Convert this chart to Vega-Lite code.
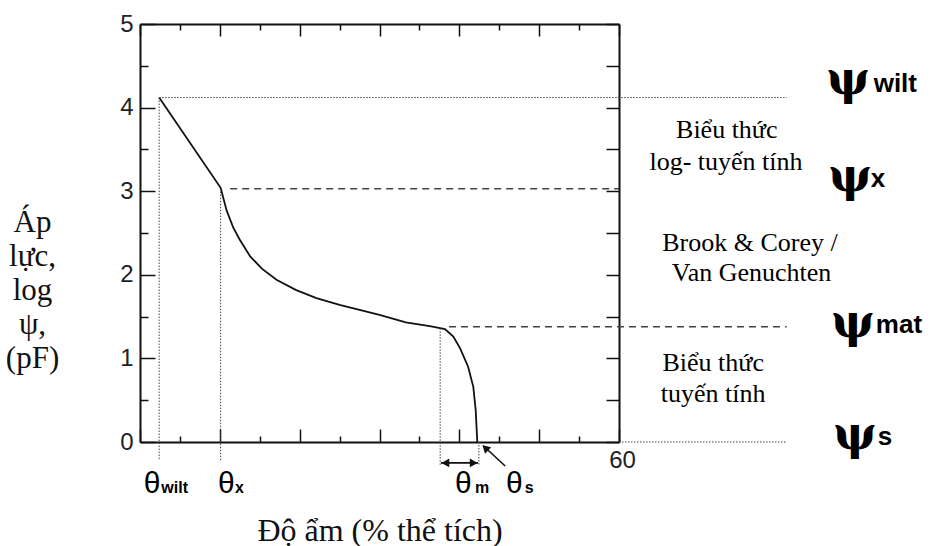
{
  "$schema": "https://vega.github.io/schema/vega-lite/v6.json",
  "width": 479,
  "height": 418,
  "autosize": {"type": "none"},
  "padding": {"left": 140, "top": 24, "right": 313, "bottom": 104},
  "background": "white",
  "config": {
    "view": {"stroke": null},
    "axis": {
      "domainColor": "#111",
      "domainWidth": 2,
      "tickColor": "#111",
      "tickWidth": 1.5,
      "grid": false,
      "labelFont": "Liberation Sans",
      "labelFontSize": 24,
      "labelColor": "#222",
      "labelFlush": false,
      "labelOverlap": false,
      "titleFont": "Liberation Serif",
      "titleFontSize": 31,
      "titleFontWeight": "normal",
      "titleColor": "#111"
    }
  },
  "datasets": {
    "curve": [
      {"x": 2.4, "y": 4.12}, {"x": 10.1, "y": 3.04}, {"x": 10.85, "y": 2.77}, {"x": 11.7, "y": 2.56},
      {"x": 12.5, "y": 2.42}, {"x": 13.8, "y": 2.22}, {"x": 15.3, "y": 2.07}, {"x": 17.1, "y": 1.94},
      {"x": 19.5, "y": 1.82}, {"x": 22.1, "y": 1.72}, {"x": 25.0, "y": 1.64}, {"x": 27.5, "y": 1.58},
      {"x": 30.0, "y": 1.52}, {"x": 33.3, "y": 1.43}, {"x": 36.3, "y": 1.385}, {"x": 38.2, "y": 1.35},
      {"x": 39.25, "y": 1.26}, {"x": 40.1, "y": 1.12}, {"x": 41.1, "y": 0.9}, {"x": 41.75, "y": 0.66},
      {"x": 42.05, "y": 0.38}, {"x": 42.25, "y": 0}
    ],
    "guides": [
      {"series": "wilt_v", "style": "dotted", "x": 2.4, "y": 4.12},
      {"series": "wilt_v", "style": "dotted", "x": 2.4, "y": -0.22},
      {"series": "wilt_h", "style": "dotted", "x": 2.4, "y": 4.12},
      {"series": "wilt_h", "style": "dotted", "x": 81, "y": 4.12},
      {"series": "x_v", "style": "dotted", "x": 10.1, "y": 3.03},
      {"series": "x_v", "style": "dotted", "x": 10.1, "y": -0.22},
      {"series": "m_v", "style": "dotted", "x": 37.6, "y": 1.36},
      {"series": "m_v", "style": "dotted", "x": 37.6, "y": -0.28},
      {"series": "s_v", "style": "dotted", "x": 42.45, "y": 0},
      {"series": "s_v", "style": "dotted", "x": 42.45, "y": -0.28},
      {"series": "s_h", "style": "dotted", "x": 60, "y": 0},
      {"series": "s_h", "style": "dotted", "x": 81, "y": 0},
      {"series": "x_h", "style": "dashed", "x": 11.3, "y": 3.03},
      {"series": "x_h", "style": "dashed", "x": 60, "y": 3.03},
      {"series": "mat_h", "style": "dashed", "x": 38.7, "y": 1.38},
      {"series": "mat_h", "style": "dashed", "x": 81, "y": 1.38}
    ],
    "arrows": [
      {"series": "m", "x": 37.7, "y": -0.25},
      {"series": "m", "x": 42.35, "y": -0.25},
      {"series": "s", "x": 45.74, "y": -0.287},
      {"series": "s", "x": 43.0, "y": -0.045}
    ],
    "heads": [
      {"id": "left", "x": 38.25, "y": -0.25},
      {"id": "right", "x": 41.8, "y": -0.25},
      {"id": "diag", "x": 43.25, "y": -0.07}
    ],
    "labels": [
      {"kind": "psi", "text": "ψ", "x": 88.69, "y": 4.33},
      {"kind": "psi", "text": "ψ", "x": 88.94, "y": 3.17},
      {"kind": "psi", "text": "ψ", "x": 89.3, "y": 1.42},
      {"kind": "psi", "text": "ψ", "x": 89.56, "y": 0.085},
      {"kind": "psisub", "text": "wilt", "x": 91.9, "y": 4.19},
      {"kind": "psisub", "text": "x", "x": 91.55, "y": 3.05},
      {"kind": "psisub", "text": "mat", "x": 92.17, "y": 1.3},
      {"kind": "psisub", "text": "s", "x": 92.4, "y": -0.04},
      {"kind": "theta", "text": "θ", "x": 1.5, "y": -0.615},
      {"kind": "theta", "text": "θ", "x": 10.81, "y": -0.615},
      {"kind": "theta", "text": "θ", "x": 40.5, "y": -0.615},
      {"kind": "theta", "text": "θ", "x": 46.9, "y": -0.615},
      {"kind": "thetasub", "text": "wilt", "x": 2.67, "y": -0.615},
      {"kind": "thetasub", "text": "x", "x": 11.9, "y": -0.615},
      {"kind": "thetasub", "text": "m", "x": 41.96, "y": -0.615},
      {"kind": "thetasub", "text": "s", "x": 48.2, "y": -0.615},
      {"kind": "note", "text": "Biểu thức", "x": 73.5, "y": 3.73},
      {"kind": "note", "text": "log- tuyến tính", "x": 73.4, "y": 3.35},
      {"kind": "note", "text": "Brook & Corey /", "x": 76.4, "y": 2.38},
      {"kind": "note", "text": "Van Genuchten", "x": 76.6, "y": 2.02},
      {"kind": "note", "text": "Biểu thức", "x": 71.8, "y": 0.94},
      {"kind": "note", "text": "tuyến tính", "x": 71.8, "y": 0.58}
    ]
  },
  "layer": [
    {
      "data": {"name": "curve"},
      "mark": {"type": "line", "color": "#111", "strokeWidth": 1.8, "clip": false},
      "encoding": {
        "x": {"field": "x", "type": "quantitative", "scale": {"domain": [0, 60], "nice": false, "zero": false},
          "axis": {"orient": "bottom", "values": [0, 10, 20, 30, 40, 50, 60], "tickSize": -13, "labelExpr": "datum.value == 60 ? '60' : ''", "labelPadding": 19, "labelOffset": 3, "labelAlign": "center",
            "title": "Độ ẩm (% thể tích)", "titleX": 239.5, "titleY": 98, "titleAlign": "center", "titleBaseline": "alphabetic", "titleFontSize": 32}},
        "y": {"field": "y", "type": "quantitative", "scale": {"domain": [0, 5], "nice": false, "zero": false},
          "axis": {"orient": "left", "values": [0, 1, 2, 3, 4, 5], "format": "d", "tickSize": -15, "labelPadding": 22,
            "title": ["Áp", "lực,", "log", "ψ,", "(pF)"], "titleAngle": 0, "titleAlign": "center", "titleBaseline": "alphabetic", "titleX": -108, "titleY": 207, "titleLineHeight": 34}}
      }
    },
    {
      "data": {"name": "guides"},
      "transform": [{"filter": "datum.style == 'dotted'"}],
      "mark": {"type": "line", "color": "#444", "strokeWidth": 1, "strokeDash": [1.5, 1.5], "clip": false},
      "encoding": {
        "x": {"field": "x", "type": "quantitative", "scale": {"domain": [0, 60], "nice": false, "zero": false},
          "axis": {"orient": "bottom", "values": [5, 15, 25, 35, 45, 55], "tickSize": -6, "labels": false, "domain": false, "title": null}},
        "y": {"field": "y", "type": "quantitative", "scale": {"domain": [0, 5], "nice": false, "zero": false},
          "axis": {"orient": "left", "values": [0.5, 1.5, 2.5, 3.5, 4.5], "tickSize": -8, "labels": false, "domain": false, "title": null}},
        "detail": {"field": "series"}
      }
    },
    {
      "data": {"name": "guides"},
      "transform": [{"filter": "datum.style == 'dashed'"}],
      "mark": {"type": "line", "color": "#444", "strokeWidth": 1.5, "strokeDash": [7, 5], "clip": false},
      "encoding": {
        "x": {"field": "x", "type": "quantitative", "scale": {"domain": [0, 60], "nice": false, "zero": false},
          "axis": {"orient": "top", "values": [0, 10, 20, 30, 40, 50, 60], "tickSize": -12, "labels": false, "domain": true, "title": null}},
        "y": {"field": "y", "type": "quantitative", "scale": {"domain": [0, 5], "nice": false, "zero": false},
          "axis": {"orient": "right", "values": [0, 0.5, 1, 1.5, 2, 2.5, 3, 3.5, 4, 4.5, 5], "tickSize": -13, "labels": false, "domain": true, "title": null}},
        "detail": {"field": "series"}
      }
    },
    {
      "data": {"name": "arrows"},
      "mark": {"type": "line", "color": "#111", "strokeWidth": 1.6, "clip": false},
      "encoding": {
        "x": {"field": "x", "type": "quantitative", "scale": {"domain": [0, 60], "nice": false, "zero": false},
          "axis": {"orient": "top", "values": [5, 15, 25, 35, 45, 55], "tickSize": -6, "labels": false, "domain": false, "title": null}},
        "y": {"field": "y", "type": "quantitative", "scale": {"domain": [0, 5], "nice": false, "zero": false}, "axis": null},
        "detail": {"field": "series"}
      }
    },
    {
      "data": {"name": "heads"},
      "transform": [{"filter": "datum.id == 'left'"}],
      "mark": {"type": "point", "shape": "triangle-right", "angle": 180, "filled": true, "color": "#111", "opacity": 1, "size": 80, "clip": false},
      "encoding": {
        "x": {"field": "x", "type": "quantitative", "scale": {"domain": [0, 60], "nice": false, "zero": false}, "axis": null},
        "y": {"field": "y", "type": "quantitative", "scale": {"domain": [0, 5], "nice": false, "zero": false}, "axis": null}
      }
    },
    {
      "data": {"name": "heads"},
      "transform": [{"filter": "datum.id == 'right'"}],
      "mark": {"type": "point", "shape": "triangle-right", "angle": 0, "filled": true, "color": "#111", "opacity": 1, "size": 80, "clip": false},
      "encoding": {
        "x": {"field": "x", "type": "quantitative", "scale": {"domain": [0, 60], "nice": false, "zero": false}, "axis": null},
        "y": {"field": "y", "type": "quantitative", "scale": {"domain": [0, 5], "nice": false, "zero": false}, "axis": null}
      }
    },
    {
      "data": {"name": "heads"},
      "transform": [{"filter": "datum.id == 'diag'"}],
      "mark": {"type": "point", "shape": "triangle-right", "angle": 223, "filled": true, "color": "#111", "opacity": 1, "size": 80, "clip": false},
      "encoding": {
        "x": {"field": "x", "type": "quantitative", "scale": {"domain": [0, 60], "nice": false, "zero": false}, "axis": null},
        "y": {"field": "y", "type": "quantitative", "scale": {"domain": [0, 5], "nice": false, "zero": false}, "axis": null}
      }
    },
    {
      "data": {"name": "labels"},
      "transform": [{"filter": "datum.kind == 'psi'"}],
      "mark": {"type": "text", "font": "DejaVu Serif", "fontWeight": "bold", "fontSize": 46, "align": "center", "baseline": "middle", "color": "#000", "clip": false},
      "encoding": {
        "x": {"field": "x", "type": "quantitative", "scale": {"domain": [0, 60], "nice": false, "zero": false}, "axis": null},
        "y": {"field": "y", "type": "quantitative", "scale": {"domain": [0, 5], "nice": false, "zero": false}, "axis": null},
        "text": {"field": "text"}
      }
    },
    {
      "data": {"name": "labels"},
      "transform": [{"filter": "datum.kind == 'psisub'"}],
      "mark": {"type": "text", "font": "Liberation Sans", "fontWeight": "bold", "fontSize": 26, "align": "left", "baseline": "alphabetic", "color": "#000", "clip": false},
      "encoding": {
        "x": {"field": "x", "type": "quantitative", "scale": {"domain": [0, 60], "nice": false, "zero": false}, "axis": null},
        "y": {"field": "y", "type": "quantitative", "scale": {"domain": [0, 5], "nice": false, "zero": false}, "axis": null},
        "text": {"field": "text"}
      }
    },
    {
      "data": {"name": "labels"},
      "transform": [{"filter": "datum.kind == 'theta'"}],
      "mark": {"type": "text", "font": "Liberation Sans", "fontSize": 30, "align": "center", "baseline": "alphabetic", "color": "#000", "clip": false},
      "encoding": {
        "x": {"field": "x", "type": "quantitative", "scale": {"domain": [0, 60], "nice": false, "zero": false}, "axis": null},
        "y": {"field": "y", "type": "quantitative", "scale": {"domain": [0, 5], "nice": false, "zero": false}, "axis": null},
        "text": {"field": "text"}
      }
    },
    {
      "data": {"name": "labels"},
      "transform": [{"filter": "datum.kind == 'thetasub'"}],
      "mark": {"type": "text", "font": "Liberation Sans", "fontWeight": "bold", "fontSize": 16, "align": "left", "baseline": "alphabetic", "color": "#000", "clip": false},
      "encoding": {
        "x": {"field": "x", "type": "quantitative", "scale": {"domain": [0, 60], "nice": false, "zero": false}, "axis": null},
        "y": {"field": "y", "type": "quantitative", "scale": {"domain": [0, 5], "nice": false, "zero": false}, "axis": null},
        "text": {"field": "text"}
      }
    },
    {
      "data": {"name": "labels"},
      "transform": [{"filter": "datum.kind == 'note'"}],
      "mark": {"type": "text", "font": "Liberation Serif", "fontSize": 26, "align": "center", "baseline": "middle", "color": "#000", "clip": false},
      "encoding": {
        "x": {"field": "x", "type": "quantitative", "scale": {"domain": [0, 60], "nice": false, "zero": false}, "axis": null},
        "y": {"field": "y", "type": "quantitative", "scale": {"domain": [0, 5], "nice": false, "zero": false}, "axis": null},
        "text": {"field": "text"}
      }
    }
  ],
  "resolve": {"axis": {"x": "independent", "y": "independent"}}
}
